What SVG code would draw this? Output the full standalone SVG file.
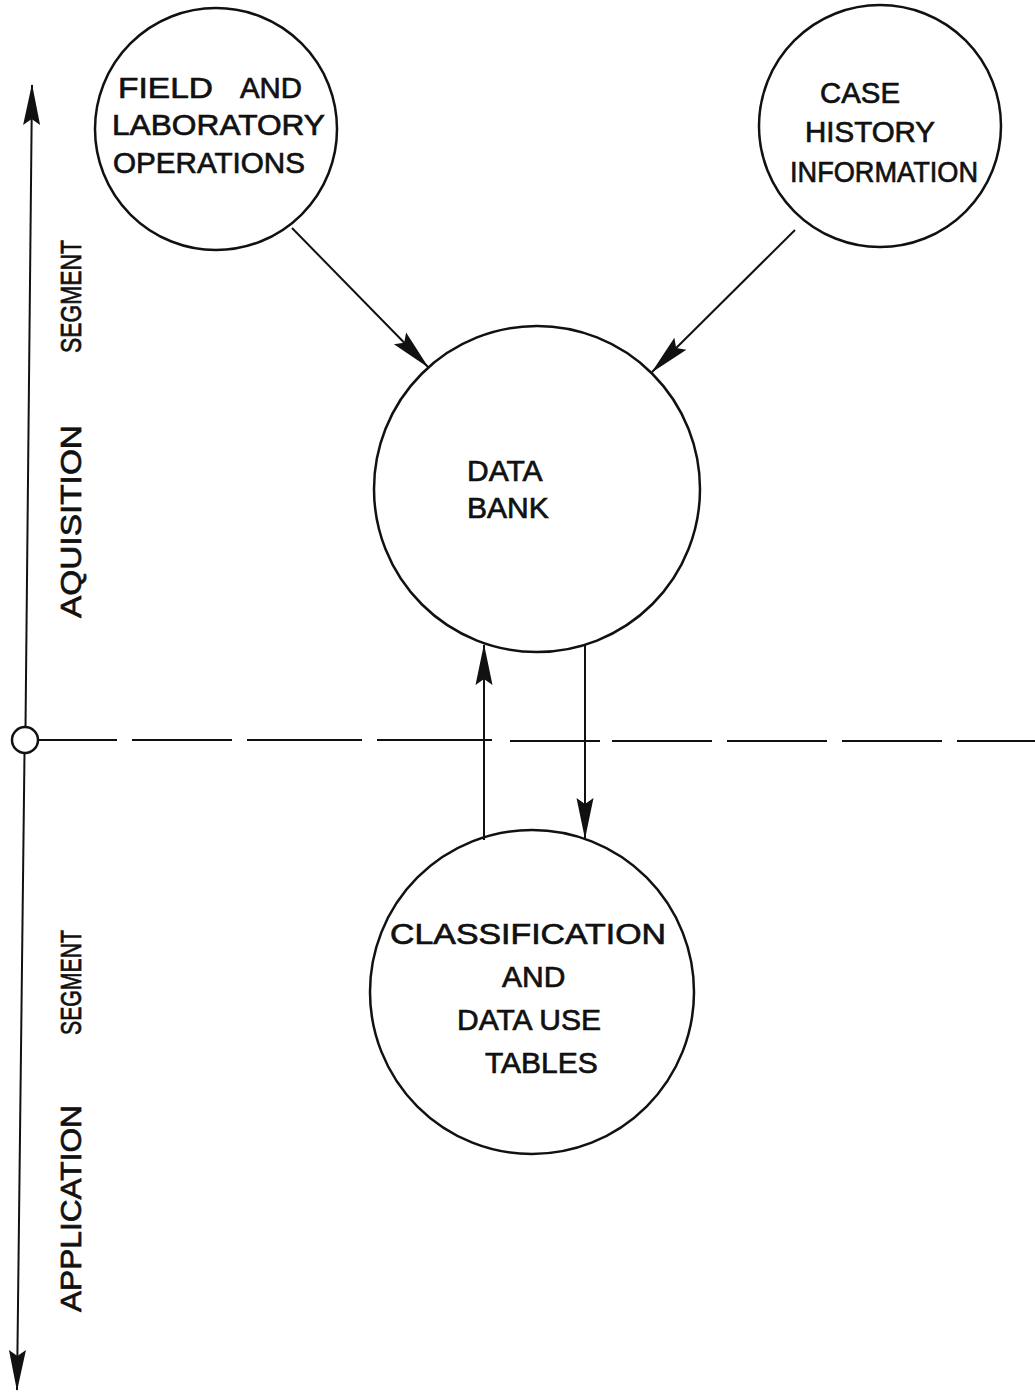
<svg xmlns="http://www.w3.org/2000/svg" width="1035" height="1393" viewBox="0 0 1035 1393">
<style>
.node{fill:none;stroke:#111;stroke-width:2.5}
.lbl{font-family:"Liberation Sans",Arial,sans-serif;font-size:30px;fill:#111;stroke:#111;stroke-width:0.7}
.con{stroke:#111;stroke-width:2;fill:none}
</style>
<defs>
<marker id="ah" markerUnits="userSpaceOnUse" viewBox="-42 -10 44 20" refX="0" refY="0" markerWidth="44" markerHeight="20" orient="auto-start-reverse">
<path d="M1,0 L-40,-8.5 L-34,0 L-40,8.5 Z" fill="#111"/>
</marker>
</defs>
<rect width="1035" height="1393" fill="#fff"/>
<g id="axis">
<line class="con" x1="32" y1="85" x2="25.5" y2="727" marker-start="url(#ah)"/>
<line class="con" x1="24.5" y1="753" x2="17" y2="1390" marker-end="url(#ah)"/>
<circle cx="25" cy="740" r="13" fill="#fff" stroke="#111" stroke-width="2.5"/>
<path class="con" d="M38,740 H117 M132,740 H232 M247,740 H362 M377,740 H492 M510,741 H600 M612,741 H712 M727,741 H827 M842,741 H942 M957,741 H1035"/>
<text class="lbl" font-size="32" transform="translate(81,618) rotate(-90)" textLength="193" lengthAdjust="spacingAndGlyphs">AQUISITION</text>
<text class="lbl" font-size="32" transform="translate(81,353) rotate(-90)" textLength="113" lengthAdjust="spacingAndGlyphs">SEGMENT</text>
<text class="lbl" font-size="32" transform="translate(81,1312) rotate(-90)" textLength="207" lengthAdjust="spacingAndGlyphs">APPLICATION</text>
<text class="lbl" font-size="32" transform="translate(81,1035) rotate(-90)" textLength="105" lengthAdjust="spacingAndGlyphs">SEGMENT</text>
</g>
<g id="field">
<circle class="node" cx="216" cy="129" r="121"/>
<text class="lbl" font-size="29" x="118" y="98" textLength="95" lengthAdjust="spacingAndGlyphs">FIELD</text>
<text class="lbl" font-size="29" x="240" y="98" textLength="62" lengthAdjust="spacingAndGlyphs">AND</text>
<text class="lbl" font-size="29" x="112" y="135" textLength="213" lengthAdjust="spacingAndGlyphs">LABORATORY</text>
<text class="lbl" font-size="29" x="113" y="173" textLength="192" lengthAdjust="spacingAndGlyphs">OPERATIONS</text>
</g>
<g id="case">
<circle class="node" cx="880" cy="126" r="121"/>
<text class="lbl" font-size="32" x="820" y="103" textLength="80" lengthAdjust="spacingAndGlyphs">CASE</text>
<text class="lbl" font-size="32" x="805" y="142" textLength="130" lengthAdjust="spacingAndGlyphs">HISTORY</text>
<text class="lbl" font-size="32" x="790" y="182" textLength="188" lengthAdjust="spacingAndGlyphs">INFORMATION</text>
</g>
<g id="databank">
<circle class="node" cx="537" cy="489" r="163"/>
<text class="lbl" x="467" y="481">DATA</text>
<text class="lbl" x="467" y="518">BANK</text>
</g>
<g id="classification">
<circle class="node" cx="532" cy="992" r="162"/>
<text class="lbl" x="390" y="944" textLength="276" lengthAdjust="spacingAndGlyphs">CLASSIFICATION</text>
<text class="lbl" x="502" y="987">AND</text>
<text class="lbl" x="457" y="1030">DATA USE</text>
<text class="lbl" x="485" y="1073">TABLES</text>
</g>
<g id="connectors">
<line class="con" x1="292" y1="228" x2="428" y2="367" marker-end="url(#ah)"/>
<line class="con" x1="795" y1="230" x2="652" y2="372" marker-end="url(#ah)"/>
<line class="con" x1="484" y1="840" x2="484" y2="645" marker-end="url(#ah)"/>
<line class="con" x1="585" y1="645" x2="585" y2="838" marker-end="url(#ah)"/>
</g>
</svg>
